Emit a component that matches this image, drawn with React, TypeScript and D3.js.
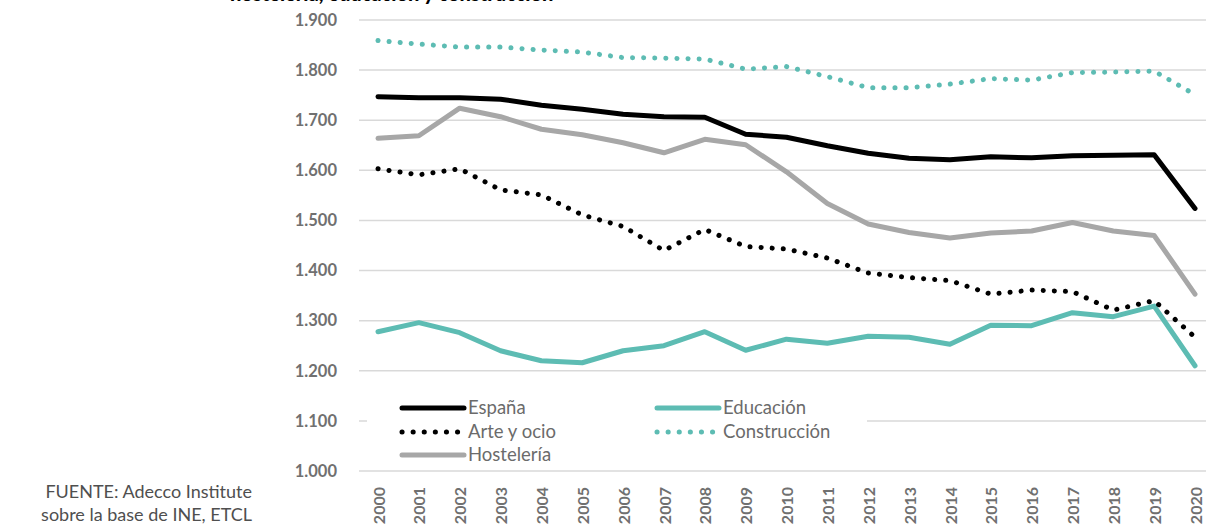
import React from "react";
import * as d3 from "d3";

const years = [2000,2001,2002,2003,2004,2005,2006,2007,2008,2009,2010,2011,2012,2013,2014,2015,2016,2017,2018,2019,2020];
const espana = [1747,1745,1745,1742,1730,1722,1712,1707,1706,1672,1666,1649,1634,1624,1621,1627,1625,1629,1630,1631,1524];
const construccion = [1859,1852,1846,1846,1840,1836,1825,1824,1822,1802,1807,1787,1765,1765,1772,1783,1780,1795,1796,1798,1751];
const hosteleria = [1664,1669,1724,1707,1682,1671,1655,1635,1662,1651,1597,1534,1493,1476,1465,1475,1479,1496,1479,1470,1353];
const arte = [1603,1591,1603,1561,1551,1511,1488,1440,1482,1448,1443,1425,1395,1386,1380,1353,1361,1358,1321,1340,1267];
const educacion = [1278,1296,1276,1240,1220,1216,1240,1250,1278,1241,1263,1255,1269,1267,1253,1291,1290,1316,1308,1329,1210];
const yTicks = [1000,1100,1200,1300,1400,1500,1600,1700,1800,1900];

const TEAL = "#5dbcb3";
const GREY = "#a7a7a7";
const FONT = "Lato, 'Open Sans', sans-serif";

const series = [
  { name: "Construcción", values: construccion, color: TEAL, dotted: true },
  { name: "Educación", values: educacion, color: TEAL, dotted: false },
  { name: "Hostelería", values: hosteleria, color: GREY, dotted: false },
  { name: "Arte y ocio", values: arte, color: "#000", dotted: true },
  { name: "España", values: espana, color: "#000", dotted: false },
];

const legendItems = [
  { name: "España", color: "#000", dotted: false, col: 0, row: 0 },
  { name: "Educación", color: TEAL, dotted: false, col: 1, row: 0 },
  { name: "Arte y ocio", color: "#000", dotted: true, col: 0, row: 1 },
  { name: "Construcción", color: TEAL, dotted: true, col: 1, row: 1 },
  { name: "Hostelería", color: GREY, dotted: false, col: 0, row: 2 },
];

const fmt = (v: number) => {
  const s = String(v);
  return s.slice(0, 1) + "." + s.slice(1);
};

export default function App() {
  const W = 1206, H = 531;
  const x = d3.scalePoint<number>().domain(years).range([378, 1195]);
  const y = d3.scaleLinear().domain([1000, 1900]).range([471, 20]);
  const line = d3.line<number>().x((_, i) => x(years[i])!).y((v) => y(v));

  const legX = [400, 655];
  const legY = [408, 432, 455];

  return (
    <svg width={W} height={H} style={{ position: "absolute", left: 0, top: 0, background: "#fff" }}>
      <text x={230} y={1} fontFamily={FONT} fontWeight={900} fontSize={20} fill="#000">hostelería, educación y construcción</text>
      {yTicks.map((t) => (
        <g key={t}>
          <line x1={359} x2={W} y1={y(t)} y2={y(t)} stroke="#d9d9d9" strokeWidth={1.5} />
          <text x={337} y={y(t)} dy="0.35em" textAnchor="end" fontFamily={FONT} fontWeight={700} fontSize={16.5} fill="#707070">{fmt(t)}</text>
        </g>
      ))}
      <rect x={367} y={395} width={500} height={70} fill="#fff" />
      {series.map((s) => (
        <path key={s.name} d={line(s.values)!} fill="none" stroke={s.color} strokeWidth={5}
          strokeLinecap="round" strokeLinejoin="round" strokeDasharray={s.dotted ? "0.1 11" : undefined} />
      ))}
      {legendItems.map((l) => {
        const lx = legX[l.col], ly = legY[l.row];
        return (
          <g key={l.name}>
            <line x1={lx + 2} x2={lx + 64} y1={ly} y2={ly} stroke={l.color} strokeWidth={5} strokeLinecap="round"
              strokeDasharray={l.dotted ? "0.1 11" : undefined} />
            <text x={lx + 68} y={ly} dy="0.35em" fontFamily={FONT} fontSize={18.5} fill="#6b6b6b">{l.name}</text>
          </g>
        );
      })}
      {years.map((yr) => (
        <text key={yr} transform={`translate(${x(yr)! + 1},487) rotate(-90)`} textAnchor="end" dy="0.35em"
          fontFamily={FONT} fontWeight={700} fontSize={16} fill="#707070">{yr}</text>
      ))}
      <text x={252} y={498} textAnchor="end" fontFamily={FONT} fontSize={18} fill="#4f4f4f">FUENTE: Adecco Institute</text>
      <text x={252} y={521} textAnchor="end" fontFamily={FONT} fontSize={18} fill="#4f4f4f">sobre la base de INE, ETCL</text>
    </svg>
  );
}
